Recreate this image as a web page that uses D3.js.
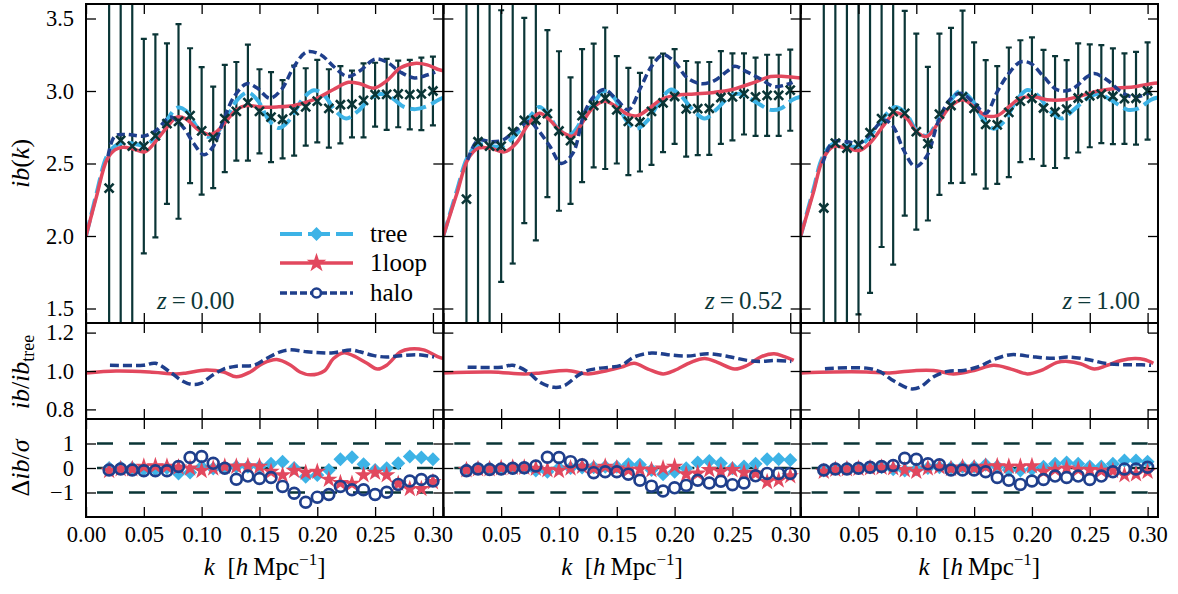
<!DOCTYPE html>
<html><head><meta charset="utf-8">
<script src="https://cdn.jsdelivr.net/npm/d3@7"></script>
<style>
body{margin:0;background:#fff}
svg{display:block}
text{font-family:"Liberation Serif","DejaVu Serif",serif;fill:#000}
</style></head>
<body><svg id="c" width="1178" height="594"></svg>
<script>
// ---------------- DATA ----------------
const kBins = [0.02,0.03,0.04,0.05,0.06,0.07,0.08,0.09,0.10,0.11,0.12,0.13,0.14,0.15,0.16,0.17,0.18,0.19,0.20,0.21,0.22,0.23,0.24,0.25,0.26,0.27,0.28,0.29,0.30];
const redshiftLabels = ["0.00","0.52","1.00"];
const seriesNames = ["tree","1loop","halo"];

const xTicks = [0,0.05,0.10,0.15,0.20,0.25,0.30];
const xTickLabelsFirst = ["0.00","0.05","0.10","0.15","0.20","0.25","0.30"];
const xTickLabelsOther = ["","0.05","0.10","0.15","0.20","0.25","0.30"];
const yTicksTop = [1.5,2.0,2.5,3.0,3.5];
const yTickLabelsTop = ["1.5","2.0","2.5","3.0","3.5"];
const yTicksMid = [0.8,1.0,1.2];
const yTickLabelsMid = ["0.8","1.0","1.2"];
const yTicksBot = [-1,0,1];
const yTickLabelsBot = ["\u22121","0","1"];

// measured ib(k) and its error
const ibData_z000 = [2.33,2.66,2.62,2.62,2.69,2.775,2.79,2.83,2.725,2.68,2.81,2.86,2.92,2.86,2.82,2.805,2.865,2.89,2.93,2.88,2.905,2.91,2.935,2.975,2.977,2.98,2.975,2.98,3.00];
const ibSigma_z000 = [2.5,2.0,1.5,0.74,0.70,0.553,0.671,0.465,0.44,0.35,0.37,0.34,0.40,0.29,0.31,0.27,0.31,0.267,0.284,0.27,0.266,0.23,0.255,0.22,0.245,0.23,0.24,0.25,0.237];
const ibData_z052 = [2.254,2.65,2.62,2.62,2.72,2.797,2.80,2.844,2.724,2.658,2.83,2.90,2.95,2.87,2.79,2.785,2.86,2.918,2.962,2.877,2.878,2.88,2.955,2.96,2.98,2.96,2.97,2.97,3.006];
const ibSigma_z052 = [2.5,2.0,1.6,0.937,0.91,0.708,0.83,0.576,0.55,0.436,0.459,0.427,0.488,0.37,0.37,0.34,0.37,0.34,0.327,0.33,0.32,0.32,0.32,0.30,0.28,0.27,0.28,0.28,0.28];
const ibData_z100 = [2.193,2.64,2.606,2.63,2.713,2.81,2.858,2.846,2.72,2.637,2.84,2.90,2.96,2.88,2.77,2.766,2.853,2.93,2.95,2.883,2.855,2.875,2.952,2.967,2.978,2.964,2.947,2.95,3.00];
const ibSigma_z100 = [2.5,2.0,1.6,1.17,1.105,0.886,1.055,0.706,0.676,0.53,0.556,0.535,0.594,0.455,0.443,0.406,0.447,0.42,0.42,0.40,0.386,0.338,0.376,0.355,0.338,0.33,0.312,0.32,0.335];

// model curves [k, ib]
const tree_z000 = [[0,2.0],[0.009,2.29],[0.018,2.55],[0.025,2.62],[0.033,2.645],[0.042,2.635],[0.05,2.625],[0.06,2.68],[0.07,2.80],[0.079,2.885],[0.087,2.86],[0.096,2.75],[0.105,2.685],[0.113,2.71],[0.122,2.82],[0.131,2.94],[0.140,2.99],[0.149,2.93],[0.158,2.80],[0.167,2.745],[0.176,2.80],[0.187,2.94],[0.197,3.005],[0.206,2.97],[0.216,2.86],[0.225,2.81],[0.235,2.86],[0.246,2.95],[0.255,2.98],[0.265,2.95],[0.275,2.89],[0.285,2.875],[0.295,2.895],[0.305,2.94],[0.309,2.955]];
const loop_z000 = [[0,2.0],[0.009,2.27],[0.018,2.525],[0.025,2.594],[0.032,2.612],[0.041,2.60],[0.051,2.58],[0.061,2.66],[0.070,2.75],[0.0785,2.82],[0.086,2.81],[0.096,2.74],[0.106,2.70],[0.113,2.72],[0.122,2.80],[0.130,2.87],[0.139,2.90],[0.151,2.89],[0.165,2.89],[0.180,2.90],[0.197,2.94],[0.214,3.01],[0.227,3.06],[0.237,3.05],[0.249,3.02],[0.260,3.07],[0.272,3.16],[0.284,3.19],[0.295,3.18],[0.304,3.15],[0.309,3.14]];
const halo_z000 = [[0.019,2.55],[0.025,2.69],[0.035,2.70],[0.05,2.69],[0.061,2.73],[0.073,2.82],[0.084,2.75],[0.093,2.64],[0.102,2.56],[0.11,2.617],[0.119,2.80],[0.128,2.96],[0.139,3.05],[0.148,3.02],[0.159,2.95],[0.169,3.01],[0.18,3.17],[0.191,3.27],[0.203,3.25],[0.214,3.17],[0.226,3.10],[0.237,3.14],[0.25,3.22],[0.26,3.20],[0.272,3.13],[0.284,3.09],[0.295,3.11],[0.302,3.13]];

const tree_z052 = [[0,2.0],[0.012,2.32],[0.021,2.545],[0.03,2.63],[0.041,2.62],[0.051,2.62],[0.064,2.71],[0.076,2.835],[0.083,2.89],[0.09,2.846],[0.1,2.73],[0.11,2.70],[0.12,2.80],[0.132,2.94],[0.139,3.00],[0.148,2.95],[0.158,2.80],[0.167,2.74],[0.177,2.80],[0.188,2.94],[0.197,3.01],[0.205,2.97],[0.217,2.86],[0.226,2.81],[0.237,2.88],[0.249,2.97],[0.257,2.98],[0.269,2.93],[0.283,2.87],[0.292,2.88],[0.302,2.94],[0.309,2.96]];
const loop_z052 = [[0,2.0],[0.012,2.30],[0.021,2.525],[0.03,2.605],[0.041,2.605],[0.053,2.58],[0.063,2.64],[0.073,2.765],[0.083,2.846],[0.092,2.80],[0.102,2.72],[0.112,2.69],[0.12,2.78],[0.13,2.89],[0.14,2.93],[0.15,2.89],[0.159,2.84],[0.168,2.83],[0.178,2.88],[0.188,2.94],[0.2,2.97],[0.217,2.98],[0.234,2.99],[0.25,3.01],[0.269,3.06],[0.283,3.10],[0.295,3.10],[0.309,3.09]];
const halo_z052 = [[0.021,2.525],[0.03,2.66],[0.041,2.65],[0.051,2.66],[0.063,2.73],[0.074,2.79],[0.082,2.73],[0.092,2.62],[0.102,2.50],[0.112,2.57],[0.122,2.85],[0.13,2.96],[0.139,3.01],[0.15,2.94],[0.16,2.87],[0.171,3.03],[0.18,3.17],[0.19,3.25],[0.2,3.20],[0.211,3.09],[0.223,3.05],[0.234,3.07],[0.246,3.14],[0.252,3.17],[0.263,3.13],[0.275,3.08],[0.286,3.03],[0.295,3.04],[0.302,3.06]];

const tree_z100 = [[0,2.0],[0.011,2.32],[0.019,2.545],[0.028,2.635],[0.04,2.62],[0.051,2.62],[0.061,2.70],[0.073,2.83],[0.082,2.89],[0.091,2.846],[0.1,2.73],[0.109,2.69],[0.119,2.80],[0.129,2.926],[0.138,3.00],[0.148,2.94],[0.158,2.80],[0.167,2.74],[0.176,2.79],[0.187,2.94],[0.196,3.007],[0.205,2.97],[0.216,2.86],[0.226,2.81],[0.236,2.87],[0.248,2.95],[0.257,2.98],[0.268,2.94],[0.283,2.87],[0.292,2.88],[0.303,2.94],[0.309,2.955]];
const loop_z100 = [[0,2.0],[0.011,2.30],[0.019,2.525],[0.028,2.617],[0.04,2.605],[0.051,2.59],[0.061,2.65],[0.072,2.765],[0.082,2.85],[0.092,2.81],[0.1,2.72],[0.109,2.686],[0.119,2.78],[0.129,2.89],[0.14,2.94],[0.15,2.89],[0.16,2.83],[0.17,2.83],[0.18,2.89],[0.19,2.95],[0.202,2.96],[0.213,2.94],[0.228,2.94],[0.242,2.965],[0.257,3.00],[0.274,3.02],[0.289,3.03],[0.303,3.05],[0.309,3.055]];
const halo_z100 = [[0.019,2.50],[0.028,2.65],[0.04,2.65],[0.051,2.64],[0.06,2.70],[0.072,2.80],[0.08,2.755],[0.089,2.594],[0.099,2.478],[0.109,2.55],[0.119,2.79],[0.129,2.94],[0.138,2.984],[0.149,2.926],[0.16,2.846],[0.17,2.995],[0.179,3.11],[0.19,3.20],[0.199,3.19],[0.21,3.10],[0.222,3.007],[0.234,3.01],[0.248,3.10],[0.254,3.12],[0.265,3.076],[0.277,2.995],[0.286,2.96],[0.294,2.965],[0.303,2.995]];

// ratio curves ib/ib_tree [k, ratio]
const ratioLoop_z000 = [[0,0.99],[0.026,1.0],[0.055,0.995],[0.078,0.985],[0.087,0.99],[0.104,1.005],[0.119,0.995],[0.13,0.97],[0.142,0.995],[0.153,1.04],[0.165,1.06],[0.177,1.03],[0.185,0.995],[0.194,0.98],[0.206,1.0],[0.214,1.065],[0.223,1.095],[0.231,1.08],[0.243,1.04],[0.252,1.01],[0.26,1.03],[0.272,1.10],[0.28,1.115],[0.292,1.11],[0.304,1.075],[0.309,1.065]];
const ratioHalo_z000 = [[0.0207,1.03],[0.0496,1.03],[0.060,1.04],[0.0727,0.995],[0.0828,0.95],[0.0915,0.93],[0.099,0.935],[0.110,0.98],[0.119,1.01],[0.130,1.025],[0.145,1.03],[0.156,1.065],[0.168,1.10],[0.177,1.11],[0.191,1.10],[0.203,1.095],[0.214,1.095],[0.229,1.11],[0.237,1.10],[0.249,1.08],[0.26,1.073],[0.272,1.08],[0.287,1.085],[0.301,1.073]];
const ratioLoop_z052 = [[0,0.99],[0.041,0.995],[0.07,0.985],[0.084,0.99],[0.107,1.003],[0.125,0.985],[0.142,1.003],[0.154,1.02],[0.165,1.04],[0.177,1.01],[0.19,0.985],[0.20,1.003],[0.214,1.045],[0.226,1.065],[0.237,1.045],[0.252,1.01],[0.263,1.03],[0.275,1.075],[0.286,1.09],[0.295,1.075],[0.303,1.055]];
const ratioHalo_z052 = [[0.021,1.02],[0.05,1.02],[0.06,1.03],[0.073,0.995],[0.084,0.94],[0.096,0.915],[0.105,0.925],[0.116,0.975],[0.125,1.003],[0.136,1.015],[0.154,1.03],[0.165,1.073],[0.18,1.094],[0.194,1.085],[0.211,1.078],[0.229,1.09],[0.246,1.076],[0.263,1.055],[0.275,1.05],[0.286,1.055],[0.301,1.05]];
const ratioLoop_z100 = [[0,0.99],[0.028,0.995],[0.057,0.995],[0.077,0.99],[0.1,1.003],[0.115,1.003],[0.132,0.985],[0.15,1.003],[0.167,1.03],[0.182,1.01],[0.196,0.985],[0.208,1.003],[0.222,1.045],[0.231,1.05],[0.242,1.038],[0.254,1.01],[0.265,1.03],[0.277,1.055],[0.289,1.065],[0.297,1.06],[0.305,1.04]];
const ratioHalo_z100 = [[0.021,1.012],[0.057,1.015],[0.069,0.995],[0.08,0.95],[0.095,0.907],[0.103,0.915],[0.115,0.97],[0.127,0.998],[0.141,1.003],[0.155,1.025],[0.167,1.06],[0.182,1.085],[0.202,1.073],[0.219,1.066],[0.231,1.073],[0.248,1.06],[0.265,1.038],[0.277,1.033],[0.289,1.033],[0.303,1.03]];

// residuals Δib/σ at kBins
const dTree_z000 = [0.0,0.02,0.0,-0.05,-0.05,0.0,-0.22,-0.18,0.05,-0.02,0.02,0.05,0.05,0.05,0.17,0.26,0.0,-0.36,-0.29,-0.08,0.36,0.44,0.15,-0.08,-0.01,0.19,0.47,0.43,0.36];
const dLoop_z000 = [-0.11,-0.04,-0.04,0.06,0.08,0.06,0.03,-0.01,-0.11,-0.01,0.06,0.06,0.08,0.06,-0.15,-0.29,-0.11,-0.19,-0.15,-0.47,-0.61,-0.64,-0.29,-0.19,-0.29,-0.64,-0.85,-0.85,-0.57];
const dHalo_z000 = [-0.08,-0.04,-0.08,-0.11,-0.11,-0.11,0.06,0.43,0.47,0.19,-0.01,-0.46,-0.33,-0.43,-0.39,-0.75,-1.03,-1.40,-1.19,-1.08,-0.75,-0.89,-0.89,-1.08,-0.99,-0.67,-0.53,-0.47,-0.53];
const dTree_z052 = [-0.05,0.0,0.0,-0.03,0.0,0.0,-0.1,-0.15,0.0,0.0,0.02,0.03,0.05,0.05,0.15,0.13,-0.08,-0.25,-0.15,-0.01,0.22,0.29,0.19,-0.01,0.06,0.17,0.36,0.36,0.33];
const dLoop_z052 = [-0.08,-0.04,-0.04,0.0,0.02,0.02,-0.02,-0.08,-0.11,-0.01,0.06,-0.01,0.06,-0.01,-0.08,-0.05,-0.08,-0.01,0.06,-0.25,-0.22,-0.08,-0.15,-0.08,-0.19,-0.22,-0.57,-0.5,-0.33];
const dHalo_z052 = [-0.11,-0.04,-0.06,-0.04,-0.01,0.01,0.08,0.44,0.43,0.26,0.13,-0.19,-0.15,-0.15,-0.25,-0.5,-0.74,-0.94,-0.81,-0.71,-0.5,-0.61,-0.54,-0.68,-0.61,-0.32,-0.22,-0.22,-0.22];
const dTree_z100 = [-0.1,-0.02,0.0,0.0,0.02,0.03,-0.05,-0.1,-0.05,0.0,0.03,0.02,0.05,0.05,0.13,0.06,-0.08,-0.1,-0.05,0.05,0.17,0.22,0.17,0.06,0.06,0.17,0.31,0.31,0.26];
const dLoop_z100 = [-0.15,-0.06,-0.04,-0.02,0.0,0.02,0.0,-0.08,-0.15,-0.01,0.04,-0.03,0.03,0.0,0.06,0.08,0.06,0.06,0.08,-0.15,-0.06,-0.01,-0.06,-0.08,-0.11,-0.11,-0.29,-0.25,-0.15];
const dHalo_z100 = [-0.08,-0.04,-0.04,-0.01,0.03,0.06,0.1,0.40,0.36,0.17,0.13,-0.08,-0.08,-0.08,-0.15,-0.39,-0.5,-0.67,-0.53,-0.47,-0.33,-0.39,-0.33,-0.47,-0.33,-0.15,-0.04,-0.04,0.03];
const sigmaLines = [-1,0,1];

// ---------------- STYLE / LAYOUT ----------------
const C = {tree:"#3db3e6", loop:"#e2485e", halo:"#1f3f8c", data:"#0a3536"};
const left = 86, pw = 357.33;
const rows = {top:[4,323], mid:[323,419], bot:[419,517]};
const xDomain = [0, 0.309];

const panels = [
  {ib:ibData_z000, sig:ibSigma_z000, tree:tree_z000, loop:loop_z000, halo:halo_z000, rl:ratioLoop_z000, rh:ratioHalo_z000, dt:dTree_z000, dl:dLoop_z000, dh:dHalo_z000},
  {ib:ibData_z052, sig:ibSigma_z052, tree:tree_z052, loop:loop_z052, halo:halo_z052, rl:ratioLoop_z052, rh:ratioHalo_z052, dt:dTree_z052, dl:dLoop_z052, dh:dHalo_z052},
  {ib:ibData_z100, sig:ibSigma_z100, tree:tree_z100, loop:loop_z100, halo:halo_z100, rl:ratioLoop_z100, rh:ratioHalo_z100, dt:dTree_z100, dl:dLoop_z100, dh:dHalo_z100}
];

const svg = d3.select("#c");
const defs = svg.append("defs");
const FS = 22.5;

function diamondPath(s){ return `M0,${-s}L${s},0L0,${s}L${-s},0Z`; }
const starSym = d3.symbol().type(d3.symbolStar).size(95)();
const starSymLeg = d3.symbol().type(d3.symbolStar).size(120)();

function styleAxis(g){
  g.select(".domain").remove();
  g.selectAll(".tick line").attr("stroke","#000").attr("stroke-width",1.3);
  g.selectAll(".tick text").attr("font-family",'"Liberation Serif",serif').attr("font-size",FS).attr("fill","#000");
  g.attr("font-family",null).attr("font-size",null);
}

panels.forEach((P, i) => {
  const x0 = left + i*pw, x1 = x0 + pw;
  const x = d3.scaleLinear().domain(xDomain).range([x0, x1]);
  const rowDefs = [
    {key:"top", dom:[1.4,3.6], ticks:yTicksTop, labels:yTickLabelsTop},
    {key:"mid", dom:[0.75,1.25], ticks:yTicksMid, labels:yTickLabelsMid},
    {key:"bot", dom:[-2,2], ticks:yTicksBot, labels:yTickLabelsBot}
  ];
  rowDefs.forEach(R => {
    const [y0, y1] = rows[R.key];
    const y = d3.scaleLinear().domain(R.dom).range([y1, y0]);
    const cid = `clip-${i}-${R.key}`;
    defs.append("clipPath").attr("id", cid).append("rect")
      .attr("x", x0).attr("y", y0).attr("width", pw).attr("height", y1-y0);
    const g = svg.append("g").attr("clip-path", `url(#${cid})`);
    const line = d3.line().x(d=>x(d[0])).y(d=>y(d[1])).curve(d3.curveCatmullRom.alpha(0.5));

    if (R.key === "top") {
      const eb = g.append("g").attr("stroke", C.data).attr("stroke-width", 2.2);
      kBins.forEach((k, j) => {
        const lo = P.ib[j] - P.sig[j], hi = P.ib[j] + P.sig[j];
        eb.append("line").attr("x1", x(k)).attr("x2", x(k)).attr("y1", y(lo)).attr("y2", y(hi));
        eb.append("line").attr("x1", x(k)-3).attr("x2", x(k)+3).attr("y1", y(lo)).attr("y2", y(lo));
        eb.append("line").attr("x1", x(k)-3).attr("x2", x(k)+3).attr("y1", y(hi)).attr("y2", y(hi));
      });
      g.append("path").attr("d", line(P.tree)).attr("fill","none").attr("stroke", C.tree)
        .attr("stroke-width", 4).attr("stroke-dasharray","16,6");
      g.append("path").attr("d", line(P.loop)).attr("fill","none").attr("stroke", C.loop)
        .attr("stroke-width", 3.5);
      g.append("path").attr("d", line(P.halo)).attr("fill","none").attr("stroke", C.halo)
        .attr("stroke-width", 3.5).attr("stroke-dasharray","8,4");
      const mk = g.append("g").attr("stroke", C.data).attr("stroke-width", 2.6).attr("stroke-linecap","butt");
      kBins.forEach((k, j) => {
        const cx = x(k), cy = y(P.ib[j]), s = 4.5;
        mk.append("path").attr("d", `M${cx-s},${cy-s}L${cx+s},${cy+s}M${cx-s},${cy+s}L${cx+s},${cy-s}`);
      });
    } else if (R.key === "mid") {
      g.append("path").attr("d", line(P.rl)).attr("fill","none").attr("stroke", C.loop).attr("stroke-width", 3.5);
      g.append("path").attr("d", line(P.rh)).attr("fill","none").attr("stroke", C.halo)
        .attr("stroke-width", 3.5).attr("stroke-dasharray","9,4");
    } else {
      sigmaLines.forEach(v => {
        g.append("line").attr("x1", x0).attr("x2", x1).attr("y1", y(v)).attr("y2", y(v))
          .attr("stroke", C.data).attr("stroke-width", 2.6).attr("stroke-dasharray","16,16")
          .attr("stroke-dashoffset", -11);
      });
      kBins.forEach((k, j) => {
        g.append("path").attr("d", diamondPath(7)).attr("transform", `translate(${x(k)},${y(P.dt[j])})`)
          .attr("fill", C.tree);
      });
      kBins.forEach((k, j) => {
        g.append("path").attr("d", starSym).attr("transform", `translate(${x(k)},${y(P.dl[j])})`)
          .attr("fill", C.loop);
      });
      kBins.forEach((k, j) => {
        g.append("circle").attr("cx", x(k)).attr("cy", y(P.dh[j])).attr("r", 5.4)
          .attr("fill","none").attr("stroke", C.halo).attr("stroke-width", 2.7);
      });
    }

    const showX = R.key === "bot";
    const xl = i === 0 ? xTickLabelsFirst : xTickLabelsOther;
    svg.append("g").attr("transform", `translate(0,${y1})`)
      .call(d3.axisBottom(x).tickValues(xTicks).tickSizeInner(-10).tickSizeOuter(0).tickPadding(9)
        .tickFormat((d, n) => showX ? xl[n] : ""))
      .call(styleAxis);
    svg.append("g").attr("transform", `translate(0,${y0})`)
      .call(d3.axisTop(x).tickValues(xTicks).tickSizeInner(-10).tickSizeOuter(0).tickFormat(""))
      .call(styleAxis);
    svg.append("g").attr("transform", `translate(${x0},0)`)
      .call(d3.axisLeft(y).tickValues(R.ticks).tickSizeInner(-10).tickSizeOuter(0).tickPadding(12)
        .tickFormat((d, n) => i === 0 ? R.labels[n] : ""))
      .call(styleAxis);
    svg.append("g").attr("transform", `translate(${x1},0)`)
      .call(d3.axisRight(y).tickValues(R.ticks).tickSizeInner(-10).tickSizeOuter(0).tickFormat(""))
      .call(styleAxis);

    svg.append("rect").attr("x", x0).attr("y", y0).attr("width", pw).attr("height", y1-y0)
      .attr("fill","none").attr("stroke","#000").attr("stroke-width", 2);
  });

  // redshift label
  const zt = svg.append("text").attr("y", 309).attr("font-size", 25).style("fill", "#0e3838");
  if (i === 0) zt.attr("x", 157).attr("text-anchor","start");
  else zt.attr("x", x1 - 18).attr("text-anchor","end");
  zt.append("tspan").attr("font-style","italic").text("z");
  zt.append("tspan").text("\u2009=\u2009" + redshiftLabels[i]);

  // x axis label
  const xt = svg.append("text").attr("x", (x0+x1)/2).attr("y", 575).attr("text-anchor","middle").attr("font-size", 25);
  xt.append("tspan").attr("font-style","italic").text("k");
  xt.append("tspan").text("\u2002[");
  xt.append("tspan").attr("font-style","italic").text("h");
  xt.append("tspan").text("\u2009Mpc");
  xt.append("tspan").attr("font-size", 17).attr("dy", -10).text("\u22121");
  xt.append("tspan").attr("dy", 10).text("]");
});

// y axis labels
function yLabel(cy, build){
  const t = svg.append("text").attr("transform", `translate(29,${cy}) rotate(-90)`)
    .attr("text-anchor","middle").attr("font-size", 26);
  build(t);
}
yLabel(163.5, t => {
  t.append("tspan").attr("font-style","italic").text("ib");
  t.append("tspan").text("(");
  t.append("tspan").attr("font-style","italic").text("k");
  t.append("tspan").text(")");
});
yLabel(372, t => {
  t.append("tspan").attr("font-style","italic").text("ib");
  t.append("tspan").text("/");
  t.append("tspan").attr("font-style","italic").text("ib");
  t.append("tspan").attr("font-size", 18).attr("dy", 5).text("tree");
});
yLabel(468, t => {
  t.append("tspan").text("\u0394");
  t.append("tspan").attr("font-style","italic").text("ib");
  t.append("tspan").text("/");
  t.append("tspan").attr("font-style","italic").text("\u03c3");
});

// legend
const legRows = [234, 263, 293];
const lg = svg.append("g");
seriesNames.forEach((name, n) => {
  const yy = legRows[n];
  const col = [C.tree, C.loop, C.halo][n];
  const ln = lg.append("line").attr("x1", 280).attr("x2", 353).attr("y1", yy).attr("y2", yy)
    .attr("stroke", col).attr("stroke-width", n === 0 ? 4 : 3.5);
  if (n === 0) ln.attr("stroke-dasharray","22,6");
  if (n === 2) ln.attr("stroke-dasharray","7,3");
  if (n === 0) lg.append("path").attr("d", diamondPath(7)).attr("transform", `translate(316.5,${yy})`).attr("fill", col);
  if (n === 1) lg.append("path").attr("d", starSymLeg).attr("transform", `translate(316.5,${yy})`).attr("fill", col);
  if (n === 2) lg.append("circle").attr("cx", 316.5).attr("cy", yy).attr("r", 4.5).attr("fill","#fff")
    .attr("stroke", col).attr("stroke-width", 2.6);
  lg.append("text").attr("x", 370).attr("y", yy + 8).attr("font-size", 25).text(name);
});
</script></body></html>
